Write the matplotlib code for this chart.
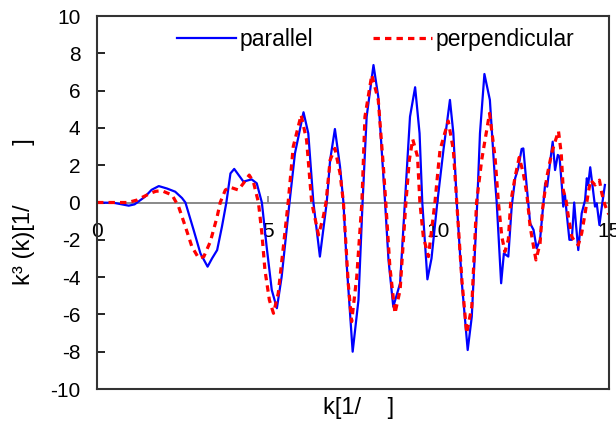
import matplotlib
matplotlib.use("Agg")
import matplotlib.pyplot as plt

plt.rcParams['font.family'] = ['Liberation Sans', 'DejaVu Sans']

# parallel (blue, solid)
k_par = [0.0, 0.5, 0.93, 1.1, 1.4, 1.6, 1.81, 2.05, 2.29, 2.49, 2.59, 2.83, 3.03, 3.24, 3.37,
         3.52, 3.66, 3.79, 3.91, 4.02, 4.29, 4.53, 4.68, 4.83, 4.97, 5.12, 5.27,
         5.41, 5.64, 5.80, 6.05, 6.19, 6.34, 6.53, 6.73, 6.83, 6.97, 7.12, 7.22,
         7.32, 7.49, 7.66, 7.78, 7.90, 8.10, 8.24, 8.44, 8.54, 8.68, 8.88, 9.02,
         9.17, 9.32, 9.45, 9.53, 9.68, 9.80, 9.97, 10.15, 10.34, 10.44, 10.54,
         10.69, 10.86, 10.98, 11.14, 11.22, 11.35, 11.51, 11.66, 11.71, 11.76,
         11.84, 11.92, 12.05, 12.15, 12.25, 12.34, 12.44, 12.49, 12.59, 12.69,
         12.79, 12.88, 12.98, 13.08, 13.13, 13.19, 13.27, 13.35, 13.42, 13.50,
         13.55, 13.62, 13.66, 13.71, 13.76, 13.84, 13.91, 13.98, 14.03, 14.10,
         14.20, 14.30, 14.35, 14.39, 14.45, 14.52, 14.59, 14.64, 14.72, 14.79, 14.88]
chi_par = [0.0, -0.02, -0.17, -0.1, 0.3, 0.68, 0.88, 0.75, 0.58, 0.24, 0.0, -1.47, -2.73, -3.44, -3.0,
           -2.55, -1.3, 0.0, 1.56, 1.80, 1.12, 1.24, 1.03, 0.0, -2.37, -4.69, -5.67,
           -3.98, 0.0, 2.64, 4.84, 3.71, 0.0, -2.9, 0.0, 2.28, 3.94, 1.92, 0.0,
           -3.44, -8.0, -5.23, 0.0, 4.6, 7.37, 5.67, 0.0, -3.08, -5.59, -4.33, 0.0,
           4.6, 6.18, 3.71, 0.0, -4.12, -3.0, 0.0, 2.82, 5.5, 3.71, 0.0,
           -4.33, -7.91, -6.12, 0.0, 3.71, 6.89, 5.5, 1.2, 0.0, -1.65,
           -4.33, -2.73, -2.9, -0.2, 1.3, 1.83, 2.87, 2.9, 0.85, -1.12,
           -1.47, -2.46, -2.0, 0.0, 1.03, 0.85, 2.1, 3.26, 1.74, 2.55,
           2.46, 0.85, -0.22, 0.4, -0.58, -2.0, -2.0, 0.0, -1.12, -2.55,
           -0.58, 0.13, 1.3, 0.94, 1.89, 0.85, -0.22, -0.04, -1.21, -0.22, 0.94]

# perpendicular (red, dotted)
k_per = [0.0, 0.5, 0.9, 1.17, 1.35, 1.56, 1.72, 1.9, 2.2, 2.39, 2.59, 2.78, 2.98, 3.13, 3.32,
         3.52, 3.61, 3.76, 3.9, 4.14, 4.29, 4.46, 4.58, 4.73, 4.83, 4.92, 5.05,
         5.17, 5.31, 5.46, 5.6, 5.75, 5.98, 6.14, 6.29, 6.49, 6.63, 6.71, 6.83,
         6.97, 7.12, 7.22, 7.36, 7.46, 7.61, 7.76, 7.85, 8.05, 8.24, 8.39, 8.46,
         8.58, 8.73, 8.88, 9.05, 9.15, 9.25, 9.39, 9.46, 9.56, 9.71, 9.85, 9.9,
         10.0, 10.05, 10.29, 10.44, 10.54, 10.69, 10.83, 10.98, 11.12, 11.27,
         11.5, 11.66, 11.76, 11.86, 11.95, 12.05, 12.12, 12.25, 12.37, 12.49,
         12.59, 12.69, 12.79, 12.86, 12.98, 13.05, 13.18, 13.32, 13.42, 13.52,
         13.6, 13.66, 13.74, 13.81, 13.91, 14.0, 14.1, 14.2, 14.3, 14.39, 14.46,
         14.59, 14.72, 14.79, 14.88, 14.98, 15.05]
chi_per = [0.0, 0.0, 0.0, 0.13, 0.3, 0.49, 0.6, 0.63, 0.4, -0.22, -1.3, -2.37, -2.99, -2.9, -2.1,
           -0.76, 0.0, 0.67, 0.82, 0.67, 1.03, 1.47, 1.12, 0.0, -1.65, -3.62, -5.23,
           -5.94, -4.87, -2.37, 0.0, 3.0, 4.69, 3.35, 0.0, -1.74, -0.76, 0.0, 2.28,
           2.9, 1.56, 0.0, -4.33, -6.39, -3.98, 0.0, 4.6, 6.84, 5.5, 1.92, 0.0,
           -3.44, -5.94, -4.69, 0.0, 2.28, 3.39, 2.46, 0.0, -1.83, -2.9, -0.76, 0.0,
           1.92, 2.82, 4.37, 2.82, 0.0, -4.16, -7.01, -5.59, 0.0, 2.28,
           4.78, 2.46, 0.0, -1.83, -2.64, -2.0, 0.0, 1.38, 2.42, 1.56,
           0.49, -1.3, -2.37, -3.08, -2.19, -0.4, 1.38, 2.64, 3.26, 3.83,
           2.64, 0.67, 0.13, -0.76, -1.83, -2.1, -2.28, -1.65, -0.58, 0.49, 1.2,
           0.94, 1.2, 0.49, -0.13, -0.58, -0.7]

xticks = [0, 5, 10, 15]
yticks = [-10, -8, -6, -4, -2, 0, 2, 4, 6, 8, 10]

fig = plt.figure(figsize=(6.16, 4.24), dpi=100)
ax = fig.add_axes([97/616, 1 - 389/424, 512/616, 373/424])

ax.plot(k_par, chi_par, color='#0000ff', lw=1.6, label='parallel')
ax.plot(k_per, chi_per, color='#ff0000', lw=2.3, linestyle=(0, (2, 1.6)), label='perpendicular')
ax.axhline(0, color='#808080', lw=1.3, zorder=1)

ax.set_xlim(0, 15)
ax.set_ylim(-10, 10)
ax.set_yticks(yticks)
ax.set_yticklabels([str(v) for v in yticks])
ax.tick_params(axis='y', direction='in', length=6, width=1.2, labelsize=15, pad=12)
ax.set_xticks([])

for s in ax.spines.values():
    s.set_linewidth(1.5)
    s.set_color('#333333')

# x axis crossing at zero, labels under the zero line
sec = ax.secondary_xaxis(0.5)
sec.set_alignment('bottom')
sec.set_xticks(xticks)
sec.set_xticklabels([str(v) for v in xticks])
sec.tick_params(direction='in', length=5, width=1.2, labelsize=15, pad=14, color='#808080')
for s in sec.spines.values():
    s.set_visible(False)

ax.set_ylabel('k³ (k)[1/' + ' ' * 9 + ']', fontsize=17)
ax.yaxis.set_label_coords(-0.121, 0.475)
ax.set_xlabel('k[1/' + ' ' * 4 + ']', fontsize=17)
ax.xaxis.set_label_coords(0.51, -0.022)

ax.legend(loc='upper left', ncol=2, frameon=False, fontsize=16.5,
          handlelength=2.58, handletextpad=0.17, columnspacing=2.58,
          borderpad=0, borderaxespad=0, bbox_to_anchor=(0.156, 0.968))

fig.savefig('out.png', dpi=100)
